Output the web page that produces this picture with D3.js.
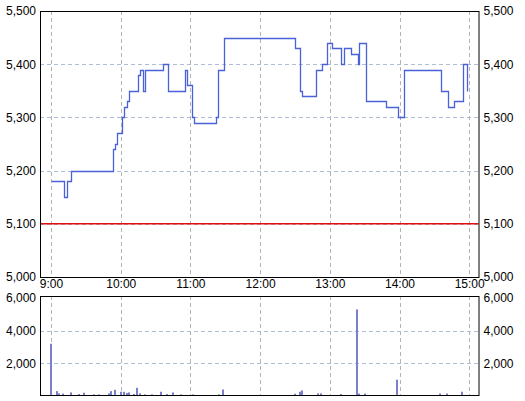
<!DOCTYPE html>
<html>
<head>
<meta charset="utf-8">
<script src="https://cdn.jsdelivr.net/npm/d3@7/dist/d3.min.js"></script>
<style>
	body { margin: 0; background: #fff; }
	text { font-family: "Liberation Sans", Arial, sans-serif; font-size: 12px; fill: #000; }
</style>
</head>
<body>
<div id="chart"></div>
<script>
var hourTicks = ['9:00', '10:00', '11:00', '12:00', '13:00', '14:00', '15:00'];
var priceTicks = [5000, 5100, 5200, 5300, 5400, 5500];
var volTicks = [2000, 4000, 6000];
var baseLine = 5100;

var priceTimes = ['9:00', '9:11', '9:14', '9:17', '9:53', '9:55', '9:57', '10:01', '10:03', '10:05', '10:07',
	'10:15', '10:17', '10:19', '10:21', '10:36', '10:41', '10:55', '10:57', '11:01', '11:03', '11:22', '11:24',
	'11:29', '12:30', '12:34', '12:36', '12:48', '12:53', '12:58', '13:02', '13:10', '13:12', '13:18', '13:24',
	'13:25', '13:31', '13:48', '13:59', '14:04', '14:36', '14:42', '14:47', '14:55', '14:58'];
var priceValues = [5180, 5150, 5180, 5200, 5240, 5250, 5270, 5300, 5320, 5330, 5350,
	5380, 5390, 5350, 5390, 5400, 5350, 5390, 5360, 5300, 5290, 5300, 5390,
	5450, 5430, 5350, 5340, 5390, 5400, 5440, 5430, 5400, 5430, 5420, 5400,
	5440, 5330, 5320, 5300, 5390, 5350, 5320, 5330, 5400, 5350];

var volTimes = ['9:00', '9:05', '9:07', '9:10', '9:17', '9:24', '9:28', '9:37', '9:41', '9:50', '9:52', '9:55',
	'10:00', '10:03', '10:05', '10:07', '10:11', '10:14', '10:17', '10:21', '10:27', '10:35', '10:40', '10:45',
	'10:52', '11:02', '11:25', '11:28', '12:30', '12:34', '12:36', '12:50', '12:52', '13:10', '13:23', '13:25',
	'13:30', '13:58', '14:35', '14:41', '14:54'];
var volValues = [3200, 300, 160, 150, 220, 120, 200, 100, 100, 160, 300, 380,
	260, 260, 180, 220, 120, 500, 160, 100, 100, 260, 120, 220,
	100, 100, 100, 400, 140, 260, 340, 160, 160, 120, 5300, 150,
	150, 1000, 150, 150, 260];

function toDate(s) {
	var p = s.split(':');
	return new Date(2000, 0, 1, +p[0], +p[1]);
}
function addMin(d, m) {
	return new Date(d.getTime() + m * 60000);
}

var W = 525, H = 401;
var left = 40, right = 478.5;
var top1 = 11, bottom1 = 277;
var top2 = 296, bottom2 = 395;

var svg = d3.select('#chart').append('svg')
	.attr('width', W)
	.attr('height', H);

var x = d3.scaleTime()
	.domain([addMin(toDate('9:00'), -9.5), addMin(toDate('15:00'), 8)])
	.range([left, right]);
var y = d3.scaleLinear().domain([5000, 5500]).range([bottom1, top1]);
var yv = d3.scaleLinear().domain([0, 6000]).range([396, 298]);

var hours = hourTicks.map(toDate);
var fmt = d3.format(',');

function grid(g, yScale, vals, y0, y1) {
	// vertical grid
	g.selectAll('.vg').data(hours).enter().append('line')
		.attr('x1', function(d) { return Math.round(x(d)) + 0.5; })
		.attr('x2', function(d) { return Math.round(x(d)) + 0.5; })
		.attr('y1', y0).attr('y2', y1)
		.attr('stroke', '#b4b4b4').attr('stroke-dasharray', '4,3');
	// horizontal grid
	g.selectAll('.hg').data(vals).enter().append('line')
		.attr('x1', left).attr('x2', right)
		.attr('y1', function(d) { return Math.round(yScale(d)) + 0.5; })
		.attr('y2', function(d) { return Math.round(yScale(d)) + 0.5; })
		.attr('stroke', '#b0bcd4').attr('stroke-dasharray', '4,3');
}

// price panel
var g1 = svg.append('g');
grid(g1, y, [5100, 5200, 5300, 5400], top1, bottom1);

g1.append('line')
	.attr('x1', left).attr('x2', right)
	.attr('y1', y(baseLine)).attr('y2', y(baseLine))
	.attr('stroke', '#e01010').attr('stroke-width', 1.5);

var priceData = priceTimes.map(function(t, i) { return {date: toDate(t), value: priceValues[i]}; });
var line = d3.line()
	.curve(d3.curveStepAfter)
	.x(function(d) { return Math.round(x(d.date)) + 0.5; })
	.y(function(d) { return Math.round(y(d.value)) + 0.5; });
g1.append('path')
	.datum(priceData)
	.attr('fill', 'none')
	.attr('stroke', '#4a62d8')
	.attr('stroke-width', 1.3)
	.attr('d', line);

g1.append('rect')
	.attr('x', left + 0.5).attr('y', top1 + 0.5)
	.attr('width', right - left).attr('height', bottom1 - top1)
	.attr('fill', 'none').attr('stroke', '#000');

g1.append('g')
	.attr('transform', 'translate(' + (left - 4) + ',0)')
	.call(d3.axisLeft(y).tickValues(priceTicks).tickFormat(fmt).tickSize(0).tickPadding(0))
	.call(function(a) { a.select('.domain').remove(); });
g1.append('g')
	.attr('transform', 'translate(' + (right + 5) + ',0)')
	.call(d3.axisRight(y).tickValues(priceTicks).tickFormat(fmt).tickSize(0).tickPadding(0))
	.call(function(a) { a.select('.domain').remove(); });
g1.append('g')
	.attr('transform', 'translate(0,' + bottom1 + ')')
	.call(d3.axisBottom(x).tickValues(hours).tickFormat(d3.timeFormat('%-H:%M')).tickSize(0).tickPadding(2))
	.call(function(a) { a.select('.domain').remove(); });

// volume panel
var g2 = svg.append('g');
grid(g2, yv, [2000, 4000], top2, bottom2);

var volData = volTimes.map(function(t, i) { return {date: toDate(t), value: volValues[i]}; });
g2.selectAll('.bar').data(volData).enter().append('rect')
	.attr('x', function(d) { return Math.round(x(d.date)) - 1; })
	.attr('width', 2)
	.attr('y', function(d) { return yv(d.value); })
	.attr('height', function(d) { return yv(0) - yv(d.value); })
	.attr('fill', '#7b80cc');

g2.append('rect')
	.attr('x', left + 0.5).attr('y', top2 + 0.5)
	.attr('width', right - left).attr('height', bottom2 - top2)
	.attr('fill', 'none').attr('stroke', '#000');

g2.append('g')
	.attr('transform', 'translate(' + (left - 4) + ',0)')
	.call(d3.axisLeft(yv).tickValues(volTicks).tickFormat(fmt).tickSize(0).tickPadding(0))
	.call(function(a) { a.select('.domain').remove(); });
g2.append('g')
	.attr('transform', 'translate(' + (right + 5) + ',0)')
	.call(d3.axisRight(yv).tickValues(volTicks).tickFormat(fmt).tickSize(0).tickPadding(0))
	.call(function(a) { a.select('.domain').remove(); });

svg.selectAll('.tick text')
	.attr('fill', '#000')
	.style('font-family', '"Liberation Sans", Arial, sans-serif')
	.style('font-size', '12px');
</script>
</body>
</html>
